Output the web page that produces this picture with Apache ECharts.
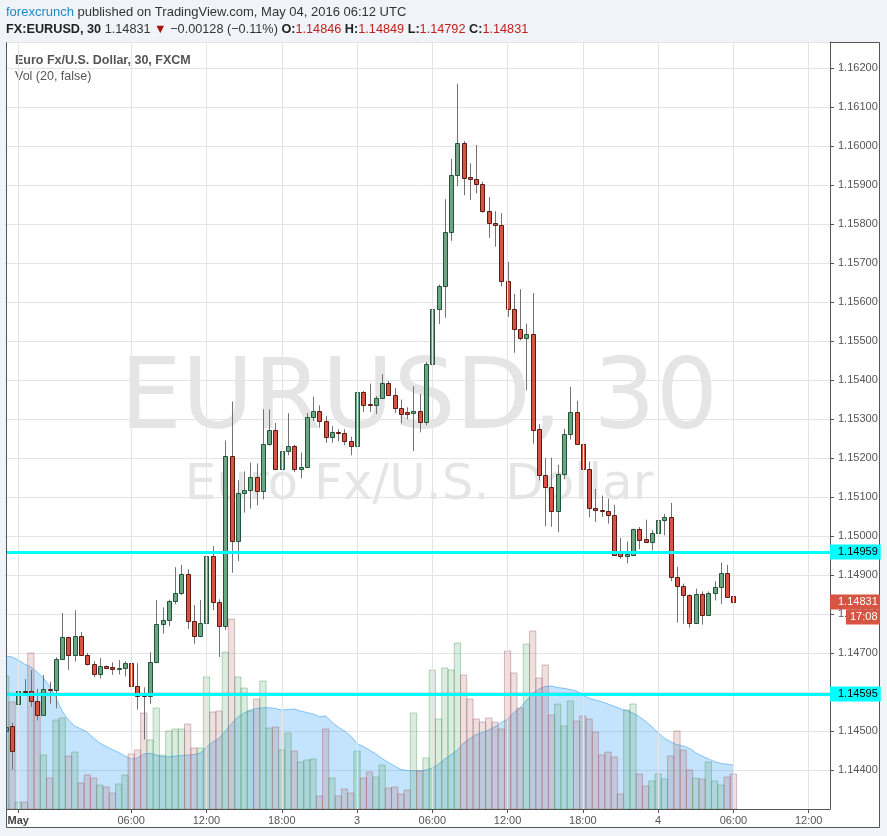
<!DOCTYPE html>
<html><head><meta charset="utf-8">
<script src="https://cdn.jsdelivr.net/npm/echarts@6/dist/echarts.min.js"></script>
<style>html,body{margin:0;padding:0;background:#f0f3f7}#c{width:887px;height:836px}</style>
</head><body><div id="c"></div>
<script>
// EURUSD 30-minute bars, Apr 29 20:00 UTC ... May 4 06:00 UTC (bar index = position)
const opens = [1.14501,1.14512,1.14568,1.14602,1.14602,1.14576,1.14540,1.14609,1.14604,1.14684,
1.14740,1.14696,1.14743,1.14696,1.14671,1.14645,1.14667,1.14664,1.14660,1.14661,
1.14674,1.14615,1.14592,1.14589,1.14676,1.14774,1.14785,1.14833,1.14853,1.14902,
1.14781,1.14743,1.14776,1.14950,1.14832,1.14769,1.15205,1.14988,1.15111,1.15119,
1.15152,1.15116,1.15237,1.15273,1.15171,1.15219,1.15232,1.15172,1.15178,1.15306,
1.15321,1.15296,1.15255,1.15268,1.15265,1.15244,1.15231,1.15370,1.15338,1.15335,
1.15355,1.15393,1.15363,1.15329,1.15317,1.15316,1.15320,1.15293,1.15440,1.15582,
1.15640,1.15779,1.15925,1.16009,1.15921,1.15915,1.15904,1.15834,1.15802,1.15797,
1.15653,1.15581,1.15530,1.15509,1.15517,1.15274,1.15156,1.15126,1.15064,1.15159,
1.15262,1.15318,1.15236,1.15172,1.15072,1.15067,1.15064,1.15053,1.14956,1.14949,
1.14952,1.15019,1.14992,1.14985,1.15009,1.15041,1.15049,1.14895,1.14872,1.14850,
1.14776,1.14852,1.14797,1.14854,1.14869,1.14905,1.14846];
const closes = [1.14511,1.14448,1.14602,1.14600,1.14576,1.14540,1.14609,1.14604,1.14684,1.14740,
1.14696,1.14743,1.14696,1.14671,1.14645,1.14666,1.14662,1.14660,1.14661,1.14674,
1.14615,1.14591,1.14589,1.14676,1.14774,1.14785,1.14833,1.14853,1.14902,1.14781,
1.14743,1.14776,1.14950,1.14832,1.14769,1.15205,1.14988,1.15111,1.15119,1.15152,
1.15116,1.15237,1.15273,1.15171,1.15219,1.15232,1.15172,1.15178,1.15306,1.15321,
1.15296,1.15255,1.15268,1.15265,1.15244,1.15231,1.15370,1.15337,1.15335,1.15355,
1.15393,1.15363,1.15329,1.15314,1.15313,1.15320,1.15293,1.15440,1.15582,1.15640,
1.15779,1.15925,1.16009,1.15919,1.15915,1.15903,1.15834,1.15802,1.15797,1.15653,
1.15581,1.15530,1.15509,1.15517,1.15271,1.15156,1.15126,1.15064,1.15159,1.15262,
1.15318,1.15236,1.15172,1.15072,1.15066,1.15064,1.15053,1.14952,1.14949,1.14955,
1.15019,1.14991,1.14985,1.15009,1.15042,1.15049,1.14895,1.14872,1.14848,1.14776,
1.14852,1.14797,1.14855,1.14869,1.14905,1.14844,1.14831];
const lows = [1.14499,1.14401,1.14561,1.14599,1.14562,1.14527,1.14539,1.14570,1.14558,1.14683,
1.14657,1.14678,1.14693,1.14668,1.14638,1.14635,1.14659,1.14644,1.14645,1.14640,
1.14591,1.14555,1.14478,1.14569,1.14674,1.14750,1.14768,1.14825,1.14849,1.14762,
1.14724,1.14741,1.14762,1.14810,1.14690,1.14759,1.14906,1.14936,1.15060,1.15070,
1.15079,1.15094,1.15232,1.15169,1.15141,1.15207,1.15164,1.15148,1.15175,1.15295,
1.15278,1.15239,1.15239,1.15243,1.15233,1.15207,1.15224,1.15318,1.15318,1.15313,
1.15353,1.15361,1.15316,1.15289,1.15299,1.15218,1.15266,1.15284,1.15425,1.15544,
1.15560,1.15757,1.15897,1.15874,1.15862,1.15879,1.15829,1.15765,1.15742,1.15640,
1.15562,1.15470,1.15502,1.15374,1.15237,1.15143,1.15025,1.15024,1.15010,1.15146,
1.15247,1.15236,1.15170,1.15048,1.15036,1.15049,1.15032,1.14950,1.14942,1.14930,
1.14950,1.14966,1.14982,1.14963,1.15002,1.15002,1.14884,1.14778,1.14774,1.14765,
1.14776,1.14773,1.14797,1.14835,1.14826,1.14844,1.14792];
const highs = [1.14513,1.14521,1.14631,1.14633,1.14656,1.14608,1.14644,1.14626,1.14689,1.14803,
1.14742,1.14810,1.14754,1.14700,1.14679,1.14687,1.14668,1.14676,1.14682,1.14679,
1.14689,1.14674,1.14612,1.14702,1.14836,1.14817,1.14837,1.14920,1.14926,1.14915,
1.14823,1.14836,1.15007,1.14974,1.14838,1.15245,1.15345,1.15143,1.15166,1.15188,
1.15186,1.15325,1.15325,1.15290,1.15248,1.15315,1.15234,1.15214,1.15316,1.15357,
1.15335,1.15308,1.15282,1.15274,1.15274,1.15255,1.15393,1.15372,1.15391,1.15359,
1.15415,1.15398,1.15380,1.15350,1.15330,1.15384,1.15364,1.15446,1.15649,1.15645,
1.15864,1.15967,1.16160,1.16013,1.15956,1.16003,1.15909,1.15869,1.15833,1.15828,
1.15703,1.15621,1.15633,1.15545,1.15623,1.15287,1.15200,1.15201,1.15183,1.15275,
1.15383,1.15347,1.15265,1.15191,1.15121,1.15104,1.15096,1.15080,1.14995,1.14986,
1.15019,1.15023,1.15042,1.15015,1.15050,1.15057,1.15085,1.14921,1.14878,1.14850,
1.14865,1.14858,1.14858,1.14884,1.14932,1.14926,1.14849];
const volumes = [133,107,7,7,156,107,54,31,89,91,53,57,26,34,31,24,22,16,25,34,
55,59,96,69,101,54,78,80,80,85,61,61,132,97,98,157,190,132,121,98,
110,128,81,82,59,76,58,47,49,50,13,80,31,13,20,16,58,31,37,32,
44,21,22,15,19,96,38,51,139,90,141,139,166,134,110,90,87,91,87,80,
158,136,101,165,178,131,144,94,105,83,108,88,93,90,77,54,57,52,15,99,
105,35,23,28,35,30,53,78,59,39,31,30,47,28,24,32,35];
const volMA = [153,152,149,145,142,137,131,123,111,98,89,83,80,77,71,66,62.5,59.5,56.5,53,
50,51,55,55.7,54,52.3,52.3,53,53.5,54,54.5,56,62,67,70.5,78,85.5,92,96,99,
100.5,101.3,101.3,100.5,99,99.5,100,98,96.5,95,92.3,93,87,82,78,73,65.5,62.5,59,55,
50.5,46.5,43,39.5,38.5,38.3,38.3,39,41,45,50,54.5,59,66,70.5,74.5,76.5,79,82.3,86.5,
90,96.5,101,108.5,115.5,120,122.5,123,121.5,120.7,119.5,118,114,110.7,109,107.3,105,102.7,100.3,98.3,
96,92.3,87.7,82.3,76.3,70.7,67.3,64.3,63,60.7,56.3,53,50.3,47.3,45.7,44.7,44];
const tickIdx = [2,20,32,44,56,68,80,92,104,116,128];
const tickLabels = ['May','06:00','12:00','18:00','3','06:00','12:00','18:00','4','06:00','12:00'];
const levels = [1.14959, 1.14595];
const lastPrice = 1.14831;
const countdown = '17:08';

const candleData = opens.map((o,i)=>[i,o,closes[i],lows[i],highs[i]]);
const volData = volumes.map((v,i)=>[i,v,closes[i]>=opens[i]?1:0]);
const maData = volMA.map((v,i)=>[i,v]);
const closeData = closes.map((c,i)=>[i,c]);

const chart = echarts.init(document.getElementById('c'), null, {renderer:'canvas'});
const FONT = 'Liberation Sans, Arial, sans-serif';
const levelLines = levels.map(v=>({yAxis:v,lineStyle:{color:'#00ffff',width:3,type:'solid',opacity:1},
  label:{show:true,position:'end',distance:0,formatter:v.toFixed(5),backgroundColor:'#00ffff',color:'#000',
    fontSize:11,fontFamily:FONT,padding:[2,3,1,8],lineHeight:12}}));
levelLines.push({yAxis:lastPrice,lineStyle:{color:'rgba(0,0,0,0)',width:1,opacity:1},
  label:{show:true,opacity:1,position:'end',distance:0,
    formatter:'{e| }\n{a|'+lastPrice.toFixed(5)+'}\n{s| }{b|'+countdown+'}',
    rich:{e:{height:15,lineHeight:15,color:'rgba(0,0,0,0)',fontSize:11},
          a:{backgroundColor:'#d75442',color:'#fff',fontSize:11,fontFamily:FONT,height:15,lineHeight:15,width:39,padding:[0,3,0,8]},
          s:{width:16,height:15,lineHeight:15,color:'rgba(0,0,0,0)',fontSize:11},
          b:{backgroundColor:'#d75442',color:'#fff',fontSize:11,fontFamily:FONT,height:15,lineHeight:15,width:28,padding:[0,2,0,4]}}}});

chart.setOption({
  animation:false,
  backgroundColor:'#f0f3f7',
  grid:{left:7,right:57,top:42,bottom:27,containLabel:false},
  xAxis:{type:'value',min:0.2,max:131.4,
    axisLine:{show:true,onZero:false,lineStyle:{color:'#555',width:1}},
    axisTick:{show:true,customValues:tickIdx,length:4,lineStyle:{color:'#555'}},
    axisLabel:{show:true,customValues:tickIdx,margin:6,color:'#555',fontSize:11,fontFamily:FONT,
      formatter:function(v){const k=tickIdx.indexOf(Math.round(v));const t=k>=0?tickLabels[k]:'';return k===0?'{m|'+t+'}':t;},
      rich:{m:{fontWeight:'bold',color:'#444',fontSize:11,fontFamily:FONT}}},
    splitLine:{show:false}},
  yAxis:[{type:'value',position:'right',min:1.143,max:1.16267,interval:0.001,
    axisLine:{show:true,lineStyle:{color:'#555'}},
    axisTick:{show:true,length:4,lineStyle:{color:'#555'}},
    axisLabel:{margin:8,color:'#555',fontSize:11,fontFamily:FONT,showMinLabel:false,showMaxLabel:false,
      formatter:function(v){return v.toFixed(5);}},
    splitLine:{show:true,lineStyle:{color:'#e4e4e4',width:1}}},
   {type:'value',min:0,max:767,show:false,splitLine:{show:false}}],
  graphic:[
    {type:'rect',z:-100,shape:{x:6.5,y:42.5,width:873,height:785},style:{fill:'#ffffff',stroke:'#555',lineWidth:1}},
    {type:'text',z:-50,x:419,y:403,style:{text:'EURUSD, 30',font:'98px DejaVu Sans',fill:'rgba(0,0,0,0.1)',align:'center',verticalAlign:'middle'}},
    {type:'text',z:-50,x:419,y:486,style:{text:'Euro Fx/U.S. Dollar',font:'50px DejaVu Sans',fill:'rgba(0,0,0,0.1)',align:'center',verticalAlign:'middle'}},
    {type:'text',x:6,y:12,style:{text:'{b|forexcrunch}{n| published on TradingView.com, May 04, 2016 06:12 UTC}',verticalAlign:'middle',
      rich:{b:{fill:'#1f8ac8',font:'13px '+FONT},n:{fill:'#333',font:'13px '+FONT}}}},
    {type:'text',x:6,y:29,style:{text:'{k|FX:EURUSD, 30}{n| 1.14831 }{t|▼}{n| \u22120.00128 (\u22120.11%) }{k|O:}{r|1.14846}{k| H:}{r|1.14849}{k| L:}{r|1.14792}{k| C:}{r|1.14831}',verticalAlign:'middle',
      rich:{k:{fill:'#222',font:'bold 12.7px '+FONT},n:{fill:'#333',font:'12.7px '+FONT},r:{fill:'#c0211d',font:'12.7px '+FONT},t:{fill:'#a5150f',font:'12.7px '+FONT}}}},
    {type:'text',x:15,y:61,style:{text:'Euro Fx/U.S. Dollar, 30, FXCM',fill:'#555',font:'bold 12.5px '+FONT,verticalAlign:'middle'}},
    {type:'text',x:15,y:77,style:{text:'Vol (20, false)',fill:'#555',font:'12.5px '+FONT,verticalAlign:'middle'}}
  ],
  series:[
    {type:'line',name:'vgrid',data:closeData,z:1,silent:true,showSymbol:false,lineStyle:{opacity:0,width:0},
     markLine:{symbol:'none',silent:true,label:{show:false},
       lineStyle:{color:'#e4e4e4',width:1,type:'solid'},
       data:tickIdx.map(v=>({xAxis:v}))}},
    {type:'line',name:'Vol MA',xAxisIndex:0,yAxisIndex:1,data:maData,z:2,showSymbol:false,smooth:false,silent:true,
     lineStyle:{color:'rgba(33,150,243,0.5)',width:1},
     areaStyle:{color:'rgba(33,150,243,0.38)',origin:'start'}},
    {type:'custom',name:'Volume',xAxisIndex:0,yAxisIndex:1,data:volData,z:3,clip:true,silent:true,
     encode:{x:0,y:1},
     renderItem:function(params,api){
       const x=api.value(0),v=api.value(1),up=api.value(2)===1;
       const p0=api.coord([x,0]),p1=api.coord([x,v]);
       const w=api.size([1,0])[0];
       return {type:'rect',shape:{x:p0[0]-w/2,y:p1[1],width:w,height:p0[1]-p1[1]},
         style:{fill:up?'rgba(80,160,100,0.2)':'rgba(170,100,100,0.2)',stroke:up?'rgba(80,160,100,0.42)':'rgba(170,100,100,0.42)',lineWidth:1}};
     }},
    {type:'custom',name:'EURUSD',xAxisIndex:0,yAxisIndex:0,data:candleData,z:4,clip:true,silent:true,
     encode:{x:0,y:[1,2,3,4]},
     renderItem:function(params,api){
       const x=api.value(0),o=api.value(1),c=api.value(2),l=api.value(3),h=api.value(4);
       const pO=api.coord([x,o]),pC=api.coord([x,c]),pL=api.coord([x,l]),pH=api.coord([x,h]);
       const up=c>=o;
       const n=Math.round(pO[0]);
       const top=Math.round(Math.min(pO[1],pC[1]))+0.5;
       const bot=Math.round(Math.max(pO[1],pC[1]))+0.5;
       return {type:'group',children:[
         {type:'line',shape:{x1:n+0.5,y1:pH[1],x2:n+0.5,y2:pL[1]},style:{stroke:'#737375',lineWidth:1}},
         {type:'rect',shape:{x:n-1.5,y:top,width:4,height:Math.max(bot-top,1)},
          style:{fill:up?'#6ba583':'#d75442',stroke:up?'#225437':'#5b1a13',lineWidth:1}}
       ]};
     }},
    {type:'line',name:'levels',data:closeData,xAxisIndex:0,yAxisIndex:0,z:6,silent:true,showSymbol:false,
     lineStyle:{opacity:0,width:0},
     markLine:{symbol:'none',silent:true,precision:5,data:levelLines}}
  ]
});
</script></body></html>
